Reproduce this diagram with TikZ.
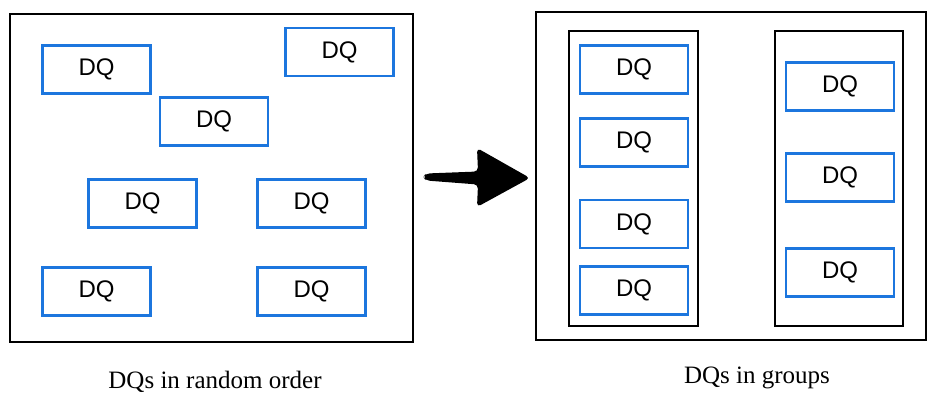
\documentclass[tikz,border=0pt]{standalone}
\usepackage{fontspec}
\setmainfont{Liberation Serif}
\newfontfamily\dqfont{Liberation Sans}
\definecolor{dqblue}{RGB}{28,118,222}
\begin{document}
\begin{tikzpicture}[x=1pt,y=-1pt,
  dq/.style={draw=dqblue, line width=2.4pt, minimum width=108pt, minimum height=48pt,
             inner sep=0pt, font=\dqfont\fontsize{24}{24}\selectfont},
  frame/.style={draw=black, line width=2pt, inner sep=0pt},
  caption/.style={font=\fontsize{25}{25}\selectfont, anchor=base}]
\useasboundingbox (0,0) rectangle (928,394);

% outer frames
\node[frame, minimum width=403pt, minimum height=328pt] (left) at (211.5,178) {};
\node[frame, minimum width=390pt, minimum height=328pt] (right) at (731,176) {};
% group columns
\node[frame, minimum width=129pt, minimum height=295pt] (g1) at (633.5,178.5) {};
\node[frame, minimum width=128pt, minimum height=295pt] (g2) at (839,178.5) {};

% scattered DQs
\node[dq] (a1) at (96.5,69.5) {DQ};
\node[dq] (a2) at (339.5,52) {DQ};
\node[dq] (a3) at (214,121.5) {DQ};
\node[dq] (a4) at (142.5,203.5) {DQ};
\node[dq] (a5) at (311.5,203.5) {DQ};
\node[dq] (a6) at (96.5,291.5) {DQ};
\node[dq] (a7) at (311.5,291.5) {DQ};

% grouped DQs
\node[dq] (b1) at (634,69.5) {DQ};
\node[dq] (b2) at (634,142.5) {DQ};
\node[dq] (b3) at (634,224) {DQ};
\node[dq] (b4) at (634,290.5) {DQ};
\node[dq] (c1) at (840,86.5) {DQ};
\node[dq] (c2) at (840,177.5) {DQ};
\node[dq] (c3) at (840,272.5) {DQ};

% brush-stroke arrow between the frames
\coordinate (tail) at (423,177);
\coordinate (tip) at (530,178);
\fill[black, rounded corners=4pt]
  (tail) -- (426,173.5) -- (478,171.5) -- (477,148) -- (tip) -- (477,207)
  -- (478,184.5) -- (426,180.5) -- cycle;

% captions
\node[caption] (capL) at (215,388) {DQs in random order};
\node[caption] (capR) at (757,383) {DQs in groups};
\end{tikzpicture}
\end{document}
